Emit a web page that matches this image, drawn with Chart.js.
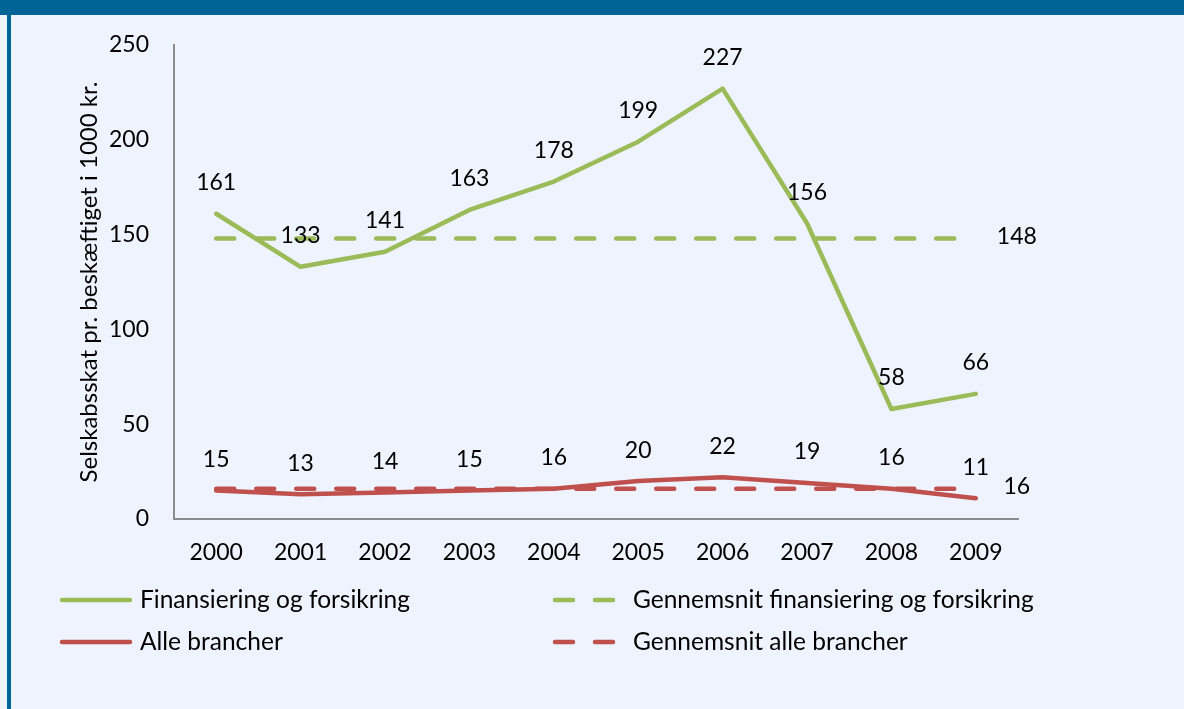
<!DOCTYPE html>
<html>
<head>
<meta charset="utf-8">
<script src="https://cdn.jsdelivr.net/npm/chart.js@4/dist/chart.umd.min.js"></script>
<style>
  body { margin: 0; background: #eef3fe; width: 1184px; height: 709px; overflow: hidden; position: relative; }
  #topband { position: absolute; left: 0; top: 0; width: 1184px; height: 15px; background: #006496; }
  #leftband { position: absolute; left: 7px; top: 0; width: 4px; height: 709px; background: #006496; }
  #chart { position: absolute; left: 0; top: 0; }
</style>
</head>
<body>
<div id="topband"></div>
<div id="leftband"></div>
<canvas id="chart" width="1184" height="709"></canvas>
<script>
var years = ["2000", "2001", "2002", "2003", "2004", "2005", "2006", "2007", "2008", "2009"];
var finans = [161, 133, 141, 163, 178, 199, 227, 156, 58, 66];
var alle = [15, 13, 14, 15, 16, 20, 22, 19, 16, 11];
var finansAvg = [148, 148, 148, 148, 148, 148, 148, 148, 148, 148];
var alleAvg = [16, 16, 16, 16, 16, 16, 16, 16, 16, 16];
var yTicks = [0, 50, 100, 150, 200, 250];

var green = "#9bbb59";
var red = "#c0504d";
var fontFam = "Lato, 'Open Sans', sans-serif";

// value labels: above the points for the real series, right of the last point for the averages
var valueLabels = {
    id: "valueLabels",
    afterDatasetsDraw: function(chart) {
        var c = chart.ctx;
        c.save();
        c.fillStyle = "#000000";
        c.font = "23px " + fontFam;
        c.textBaseline = "middle";
        c.textAlign = "center";
        chart.data.datasets.forEach(function(ds, di) {
            var meta = chart.getDatasetMeta(di);
            if (ds.isAvg) {
                var last = meta.data[meta.data.length - 1];
                c.fillText(ds.data[ds.data.length - 1], last.x + 41, last.y - 2);
            } else {
                meta.data.forEach(function(pt, i) {
                    c.fillText(ds.data[i], pt.x, pt.y - 31);
                });
            }
        });
        c.restore();
    }
};

// two column legend under the plot
var gridLegend = {
    id: "gridLegend",
    afterDraw: function(chart) {
        var c = chart.ctx;
        var slots = [[62, 600], [62, 642], [555, 600], [555, 642]];
        c.save();
        c.font = "24.5px " + fontFam;
        c.textBaseline = "middle";
        c.textAlign = "left";
        chart.data.datasets.forEach(function(ds, di) {
            var s = slots[di];
            c.strokeStyle = ds.borderColor;
            c.lineWidth = 4.5;
            c.lineCap = "round";
            c.setLineDash(ds.borderDash || []);
            c.beginPath();
            c.moveTo(s[0], s[1]);
            c.lineTo(s[0] + 68, s[1]);
            c.stroke();
            c.setLineDash([]);
            c.fillStyle = "#000000";
            c.fillText(ds.label, s[0] + 78, s[1]);
        });
        c.restore();
    }
};

new Chart(document.getElementById("chart"), {
    type: "line",
    data: {
        labels: years,
        datasets: [{
            label: "Finansiering og forsikring",
            data: finans,
            borderColor: green,
            borderWidth: 4.5,
            borderCapStyle: "round",
            borderJoinStyle: "round",
            pointRadius: 0
        }, {
            label: "Alle brancher",
            data: alle,
            borderColor: red,
            borderWidth: 4.5,
            borderCapStyle: "round",
            borderJoinStyle: "round",
            pointRadius: 0
        }, {
            label: "Gennemsnit finansiering og forsikring",
            data: finansAvg,
            isAvg: true,
            borderColor: green,
            borderWidth: 4.5,
            borderDash: [18, 22],
            borderCapStyle: "round",
            pointRadius: 0
        }, {
            label: "Gennemsnit alle brancher",
            data: alleAvg,
            isAvg: true,
            borderColor: red,
            borderWidth: 4.5,
            borderDash: [18, 22],
            borderCapStyle: "round",
            pointRadius: 0
        }]
    },
    options: {
        responsive: false,
        animation: false,
        layout: { padding: { left: 75, top: 45, right: 166, bottom: 0 } },
        plugins: {
            legend: { display: false },
            tooltip: { enabled: false }
        },
        scales: {
            x: {
                offset: true,
                grid: { display: false, drawTicks: false },
                border: { display: true, color: "#8c8c8c", width: 2 },
                ticks: { color: "#000000", padding: 20, font: { family: fontFam, size: 23 }, maxRotation: 0 },
                afterFit: function(scale) { scale.height = 190; }
            },
            y: {
                min: 0,
                max: 250,
                afterBuildTicks: function(scale) {
                    scale.ticks = yTicks.map(function(v) { return { value: v }; });
                },
                grid: { display: false, drawTicks: false },
                border: { display: true, color: "#8c8c8c", width: 2 },
                ticks: { color: "#000000", padding: 25, font: { family: fontFam, size: 23 } },
                title: {
                    display: true,
                    text: "Selskabsskat pr. beskæftiget i 1000 kr.",
                    color: "#000000",
                    padding: 0,
                    font: { family: fontFam, size: 24 }
                },
                afterFit: function(scale) { scale.width = 99; }
            }
        }
    },
    plugins: [valueLabels, gridLegend]
});
</script>
</body>
</html>
